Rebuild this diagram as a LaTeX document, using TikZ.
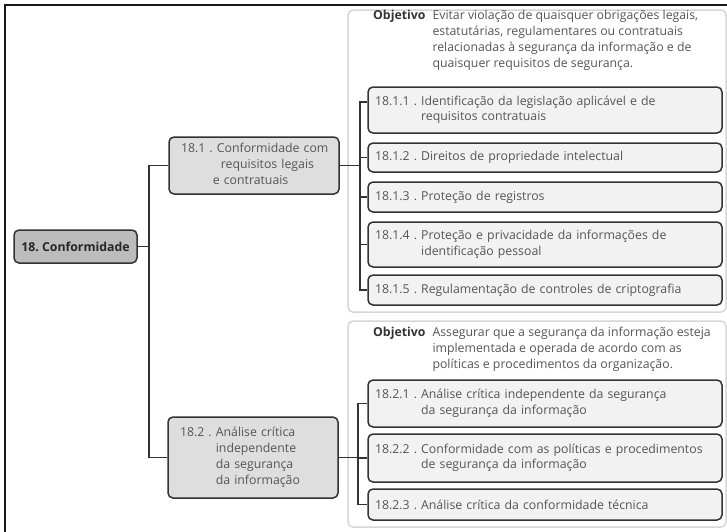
\documentclass[tikz,border=0pt]{standalone}
\usepackage{fontspec}
\setmainfont{Open Sans}
\frenchspacing
\definecolor{linec}{HTML}{333333}
\definecolor{txtc}{HTML}{555555}
\definecolor{panelc}{HTML}{D6D6D6}
\definecolor{rootfill}{HTML}{BCBCBC}
\definecolor{midfill}{HTML}{DEDEDE}
\definecolor{leaffill}{HTML}{F2F2F2}
\tikzset{
  panel/.style={draw=panelc, line width=1.5pt, rounded corners=5pt, fill=white},
  rootbox/.style={draw=linec, line width=1.5pt, rounded corners=5pt, fill=rootfill,
     minimum width=123pt, minimum height=33pt, inner sep=0pt,
     font=\fontsize{12.3}{15}\selectfont\bfseries, text=black!85},
  midbox/.style={draw=linec, line width=1.5pt, rounded corners=5pt, fill=midfill,
     minimum width=170pt, text width=146pt, inner xsep=12pt, inner ysep=0pt, align=left,
     font=\fontsize{12.3}{15.8}\selectfont, text=txtc, anchor=center},
  leafbox/.style={draw=linec, line width=1.5pt, rounded corners=5pt, fill=leaffill,
     minimum width=354pt, text width=340pt, inner xsep=7pt, inner ysep=0pt, align=left,
     font=\fontsize{12.3}{15.5}\selectfont, text=txtc},
  objtext/.style={inner sep=0pt, anchor=north west, align=left,
     font=\fontsize{12.3}{16}\selectfont, text=txtc},
  conn/.style={draw=linec, line width=1.5pt},
}
\begin{document}
\begin{tikzpicture}[x=1pt,y=-1pt]
\useasboundingbox (0,0) rectangle (727,531);
% outer frame
\draw[line width=1.6pt, black!90] (5,540) -- (5,5) -- (740,5);
% panels
\draw[panel] (348,10) rectangle (726,312);
\draw[panel] (348,321) rectangle (726,527);
% root
\node[rootbox] (root) at (75.5,246.5) {18. Conformidade};
% mid nodes
\node[midbox, minimum height=57pt] (n181) at (254,165.5)
  {\begin{tabular}{@{}l@{\ }l@{}}18.1 . & Conformidade com\\ & \hspace{4pt}requisitos legais\\ & \hspace{-4pt}e contratuais\end{tabular}};
\node[midbox, minimum height=81pt] (n182) at (253,457.5)
  {\begin{tabular}{@{}l@{\ }l@{}}18.2 . & Análise crítica\\ & independente\\ & da segurança\\ & da informação\end{tabular}};
% objective texts
\node[objtext] (obj1) at (373,8)
  {\begin{tabular}{@{}l@{\hspace{7pt}}l@{}}\textbf{\color{black!80}Objetivo} & Evitar violação de quaisquer obrigações legais,\\ & estatutárias, regulamentares ou contratuais\\ & relacionadas à segurança da informação e de\\ & quaisquer requisitos de segurança.\end{tabular}};
\node[objtext] (obj2) at (373,325)
  {\begin{tabular}{@{}l@{\hspace{7pt}}l@{}}\textbf{\color{black!80}Objetivo} & Assegurar que a segurança da informação esteja\\ & implementada e operada de acordo com as\\ & políticas e procedimentos da organização.\end{tabular}};
% leaves panel 1
\node[leafbox, minimum height=46pt] (c111) at (545,110)
  {\begin{tabular}{@{}l@{\ }l@{}}18.1.1 . & Identificação da legislação aplicável e de\\ & requisitos contratuais\end{tabular}};
\node[leafbox, minimum height=29pt] (c112) at (545,157.5) {18.1.2 . Direitos de propriedade intelectual};
\node[leafbox, minimum height=30pt] (c113) at (545,197) {18.1.3 . Proteção de registros};
\node[leafbox, minimum height=45pt] (c114) at (545,244.5)
  {\begin{tabular}{@{}l@{\ }l@{}}18.1.4 . & Proteção e privacidade da informações de\\ & identificação pessoal\end{tabular}};
\node[leafbox, minimum height=30pt] (c115) at (545,290) {18.1.5 . Regulamentação de controles de criptografia};
% leaves panel 2
\node[leafbox, minimum height=47pt] (c121) at (545,403.5)
  {\begin{tabular}{@{}l@{\ }l@{}}18.2.1 . & Análise crítica independente da segurança\\ & da segurança da informação\end{tabular}};
\node[leafbox, minimum height=48pt] (c122) at (545,458)
  {\begin{tabular}{@{}l@{\ }l@{}}18.2.2 . & Conformidade com as políticas e procedimentos\\ & de segurança da informação\end{tabular}};
\node[leafbox, minimum height=31pt] (c123) at (545,504.5) {18.2.3 . Análise crítica da conformidade técnica};
% connectors
\coordinate (jr) at (149,246.5);
\draw[conn] (root.east) -- (jr);
\draw[conn] (n181.west) -| (jr) |- (n182.west);
\coordinate (j1) at (360,165.5);
\draw[conn] (n181.east) -- (j1);
\draw[conn] ([yshift=8pt]c111.west) -| (j1 |- c115.west) -- (c115.west);
\foreach \c in {c112,c113,c114} \draw[conn] (\c.west) -- (\c.west -| j1);
\coordinate (j2) at (358,457.5);
\draw[conn] (n182.east) -- (j2);
\draw[conn] (c121.west) -| (j2 |- c123.west) -- (c123.west);
\draw[conn] (c122.west) -- (c122.west -| j2);
\end{tikzpicture}
\end{document}
